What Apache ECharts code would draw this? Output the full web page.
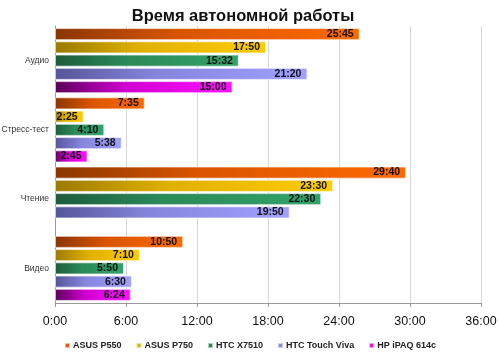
<!DOCTYPE html>
<html><head><meta charset="utf-8">
<script src="https://cdn.jsdelivr.net/npm/echarts@6/dist/echarts.min.js"></script>
<style>html,body{margin:0;padding:0;background:#fff}#c{width:500px;height:357px}</style>
</head><body><div id="c"></div>
<script>
const categories = ['Аудио', 'Стресс-тест', 'Чтение', 'Видео'];
const seriesNames = ['ASUS P550', 'ASUS P750', 'HTC X7510', 'HTC Touch Viva', 'HP iPAQ 614c'];
const asusP550 = ['25:45', '7:35', '29:40', '10:50'];
const asusP750 = ['17:50', '2:25', '23:30', '7:10'];
const htcX7510 = ['15:32', '4:10', '22:30', '5:50'];
const htcTouchViva = ['21:20', '5:38', '19:50', '6:30'];
const hpIpaq = ['15:00', '2:45', null, '6:24'];
const xTickLabels = ['0:00', '6:00', '12:00', '18:00', '24:00', '30:00', '36:00'];

const colors = [
  ['#8a3600', '#d85400', '#ff6a00'],
  ['#9a7a00', '#e0b000', '#ffcc00'],
  ['#1d5c3b', '#2a8a58', '#33a36b'],
  ['#55559a', '#8585dd', '#a0a0ff'],
  ['#5a005a', '#d000d0', '#ff10ff']
];
const legendColors = ['#e05a10', '#e0b000', '#2a8a5a', '#8888dd', '#e010e0'];

function toMin(s) { if (s == null) return null; const p = s.split(':'); return (+p[0]) * 60 + (+p[1]); }
function fmt(m) { const h = Math.floor(m / 60), mm = Math.round(m % 60); return h + ':' + (mm < 10 ? '0' : '') + mm; }

const all = [asusP550, asusP750, htcX7510, htcTouchViva, hpIpaq];
const chart = echarts.init(document.getElementById('c'));
chart.setOption({
  animation: false,
  title: { text: 'Время автономной работы', left: 238, textAlign: 'center', top: 3,
    textStyle: { fontFamily: 'Liberation Sans', fontWeight: 'bold', fontSize: 16.5, color: '#111' } },
  legend: { bottom: 2, left: 'center', itemWidth: 5, itemHeight: 5, itemGap: 14,
    icon: 'rect',
    textStyle: { fontFamily: 'Liberation Sans', fontWeight: 'bold', fontSize: 9, color: '#222', padding: [0, 0, 0, -2] },
    data: seriesNames.map((n, i) => ({ name: n, itemStyle: { color: legendColors[i] } })) },
  grid: { left: 55, right: 19, top: 26, bottom: 54, containLabel: false, outerBoundsMode: 'none' },
  xAxis: { type: 'value', min: 0, max: 2160, interval: 360,
    axisLine: { show: true, lineStyle: { color: '#999' } },
    axisTick: { show: true, length: 4, lineStyle: { color: '#999' } },
    splitLine: { show: true, lineStyle: { color: '#d8d8d8' } },
    axisLabel: { fontFamily: 'Liberation Sans', fontSize: 12.5, color: '#111', margin: 12,
      formatter: (v) => xTickLabels[Math.round(v / 360)] } },
  yAxis: { type: 'category', data: categories, inverse: true,
    axisLine: { show: true, lineStyle: { color: '#999' } },
    axisTick: { show: false },
    axisLabel: { fontFamily: 'Liberation Sans', fontSize: 8.5, color: '#333', margin: 6 } },
  series: all.map((arr, i) => ({
    name: seriesNames[i], type: 'bar',
    barCategoryGap: '6%', barGap: '10%',
    data: arr.map(toMin),
    itemStyle: {
      color: new echarts.graphic.LinearGradient(0, 0, 1, 0.4, [
        { offset: 0, color: colors[i][0] }, { offset: 0.4, color: colors[i][1] }, { offset: 1, color: colors[i][2] }]),
      borderColor: 'rgba(255,255,255,0.6)', borderWidth: 1
    },
    label: { show: true, position: 'insideRight', offset: [-1, 0], formatter: (p) => fmt(p.value),
      fontFamily: 'Liberation Sans', fontWeight: 'bold', fontSize: 10.5, color: '#111' }
  }))
});
</script></body></html>
